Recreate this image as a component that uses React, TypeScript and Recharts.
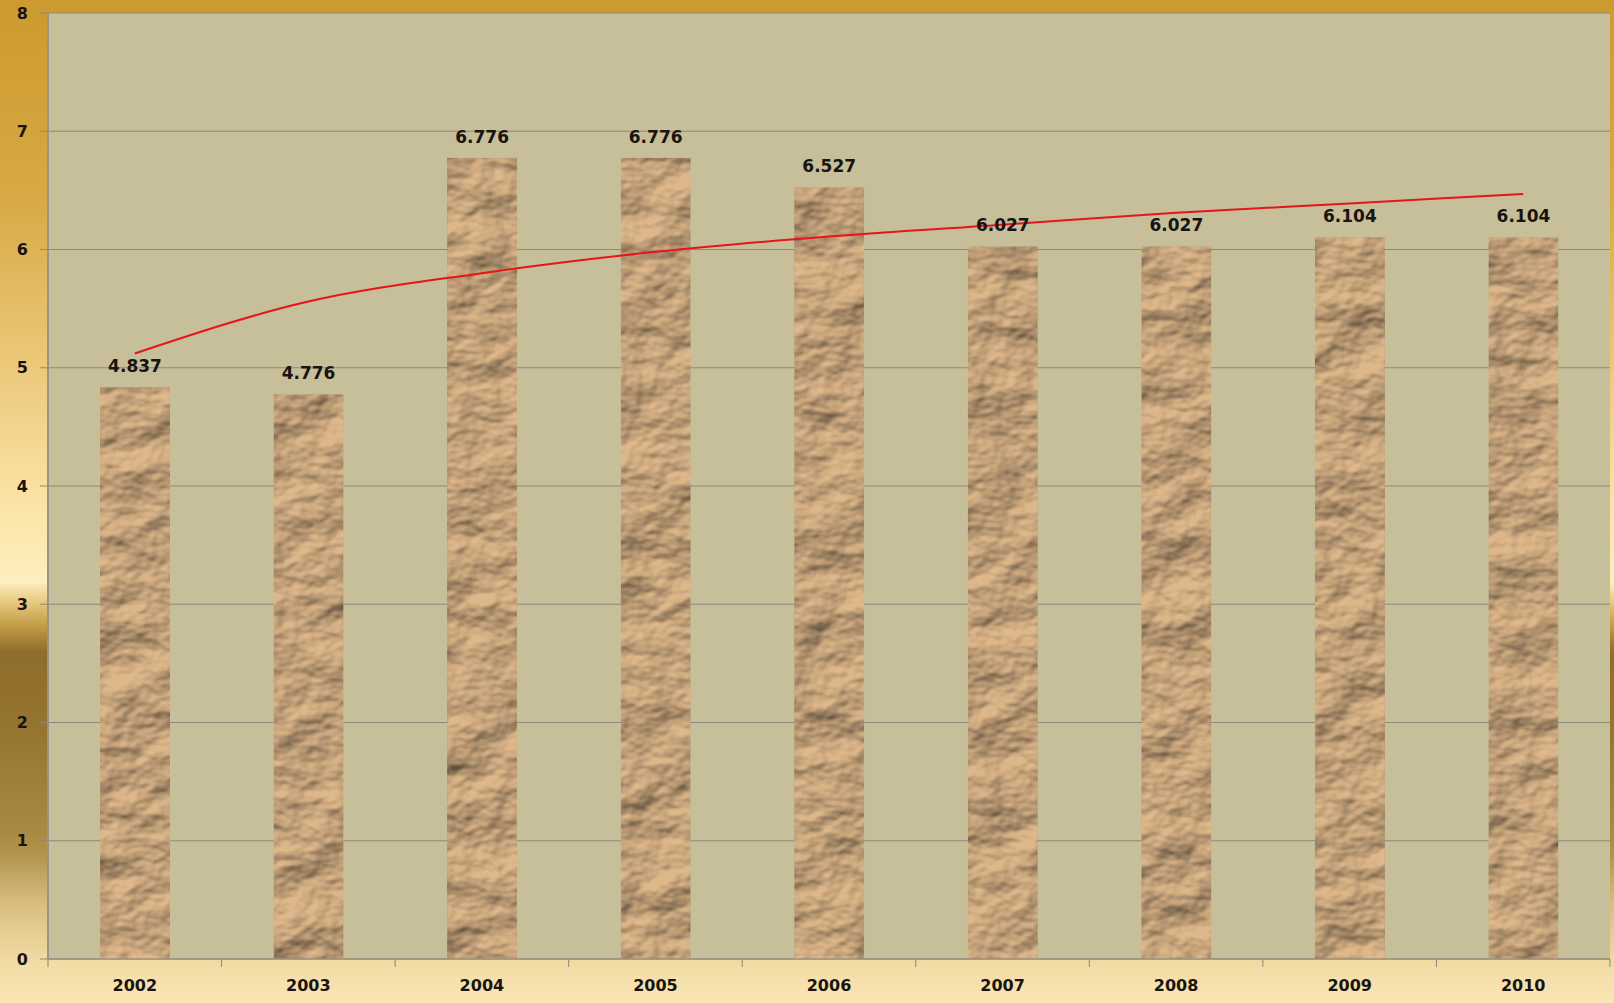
import React from 'react';
import {
  ComposedChart,
  Bar,
  Line,
  XAxis,
  YAxis,
  CartesianGrid,
  LabelList,
} from 'recharts';

const years = ['2002', '2003', '2004', '2005', '2006', '2007', '2008', '2009', '2010'];
const values = [4.837, 4.776, 6.776, 6.776, 6.527, 6.027, 6.027, 6.104, 6.104];
// trend line at each category
const trend = [5.12, 5.56, 5.8, 5.98, 6.11, 6.21, 6.31, 6.39, 6.47];
const yTicks = [0, 1, 2, 3, 4, 5, 6, 7, 8];

const W = 1614;
const H = 1003;
const M = { top: 13, right: 4, left: 0, bottom: 0 };
const Y_W = 48;
const X_H = 44;
const TICK = 8;
const TICK_GAP = 13;
const STEP = (W - Y_W - M.right) / years.length;

const data = years.map((year, i) => ({ year, value: values[i], trend: trend[i] }));

const font = 'Verdana, "DejaVu Sans", sans-serif';

const XTick = (props: any) => {
  const { x, y, payload, index } = props;
  const axisY = y - TICK - TICK_GAP;
  const left = x - STEP / 2;
  return (
    <g>
      <line x1={left} x2={left} y1={axisY} y2={axisY + TICK} stroke="#8c8878" />
      {index === years.length - 1 && (
        <line x1={x + STEP / 2} x2={x + STEP / 2} y1={axisY} y2={axisY + TICK} stroke="#8c8878" />
      )}
      <text
        x={x}
        y={y}
        dy="0.71em"
        textAnchor="middle"
        fontFamily={font}
        fontSize={16}
        fontWeight="bold"
        fill="#1a1410"
      >
        {payload.value}
      </text>
    </g>
  );
};

export default function App() {
  return (
    <div
      style={{
        position: 'absolute',
        left: 0,
        top: 0,
        width: W,
        height: H,
        background:
          'linear-gradient(to bottom, #cc9a2e 0%, #d8aa45 20%, #f0cf85 40%, #fbe3a5 50%, #fdefc0 58%, #e8c980 60%, #c09a45 62.5%, #8f6d2a 65%, #967530 73%, #a88a42 83%, #b0924a 85%, #d8bd80 90%, #f2dca5 96%, #fae6b5 100%)',
      }}
    >
      <ComposedChart width={W} height={H} data={data} margin={M}>
        <defs>
          {/* crumpled paper look for the bars */}
          <filter id="crumple" x="0" y="0" width="1" height="1" colorInterpolationFilters="sRGB">
            <feTurbulence type="fractalNoise" baseFrequency="0.016 0.022" numOctaves={4} seed={11} result="noise" />
            <feDiffuseLighting in="noise" lightingColor="#ffffff" surfaceScale={7} diffuseConstant={1.05} result="light">
              <feDistantLight azimuth={240} elevation={56} />
            </feDiffuseLighting>
            <feComposite in="light" in2="SourceGraphic" operator="arithmetic" k1={0.95} k2={0.08} k3={0} k4={0.02} result="lit" />
            <feComposite in="lit" in2="SourceAlpha" operator="in" />
          </filter>
        </defs>
        <CartesianGrid vertical={false} stroke="#8e8a78" fill="#c6bf99" fillOpacity={1} />
        <XAxis
          dataKey="year"
          height={X_H}
          tickSize={TICK}
          tickMargin={TICK_GAP}
          tickLine={false}
          axisLine={{ stroke: '#8c8878' }}
          tick={<XTick />}
          interval={0}
        />
        <YAxis
          width={Y_W}
          domain={[0, 8]}
          ticks={yTicks}
          interval={0}
          tickSize={TICK}
          tickMargin={12}
          tickLine={{ stroke: '#8c8878' }}
          axisLine={{ stroke: '#a09282', strokeWidth: 2 }}
          tick={{ fontFamily: font, fontSize: 16, fontWeight: 'bold', fill: '#1a1410' }}
        />
        <Bar dataKey="value" barSize={70} fill="#cfa676" filter="url(#crumple)" isAnimationActive={false}>
          <LabelList
            dataKey="value"
            position="top"
            offset={15}
            formatter={(v: any) => Number(v).toFixed(3)}
            style={{ fontFamily: font, fontSize: 17, fontWeight: 'bold', fill: '#1a1410' }}
          />
        </Bar>
        <Line
          dataKey="trend"
          type="monotone"
          stroke="#e8141c"
          strokeWidth={2}
          dot={false}
          activeDot={false}
          isAnimationActive={false}
        />
      </ComposedChart>
    </div>
  );
}
